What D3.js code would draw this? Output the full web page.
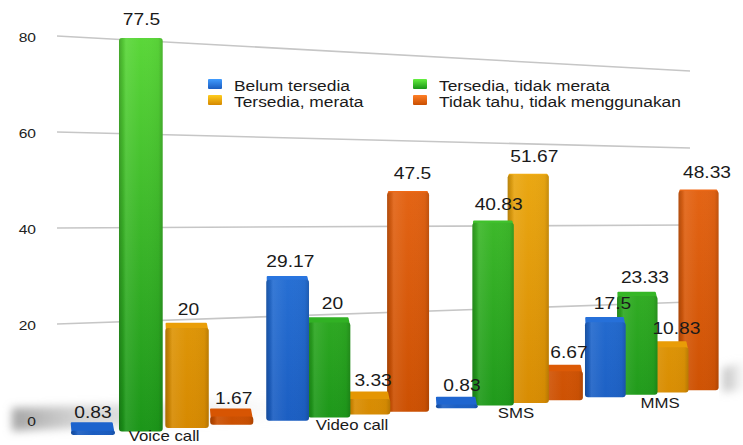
<!DOCTYPE html>
<html>
<head>
<meta charset="utf-8">
<script src="https://cdn.jsdelivr.net/npm/d3@7"></script>
<style>
  html, body { margin: 0; padding: 0; background: #fff; }
  svg { display: block; font-family: "Liberation Sans", Arial, Helvetica, sans-serif; }
</style>
</head>
<body>
<svg id="chart" width="743" height="445"></svg>
<script>
// Availability of mobile services (percent of respondents)
const categories = ["Voice call", "Video call", "SMS", "MMS"];
const seriesNames = ["Belum tersedia", "Tersedia, tidak merata", "Tersedia, merata", "Tidak tahu, tidak menggunakan"];
const belumTersedia       = [0.83, 29.17, 0.83, 17.5];
const tersediaTidakMerata = [77.5, 20, 40.83, 23.33];
const tersediaMerata      = [20, 3.33, 51.67, 10.83];
const tidakTahu           = [1.67, 47.5, 6.67, 48.33];
const tickValues = [0, 20, 40, 60, 80];

const seriesValues = [belumTersedia, tersediaTidakMerata, tersediaMerata, tidakTahu];
const palette = [
  { light: "#3a8cf0", dark: "#1a5cc0" },
  { light: "#5cd83a", dark: "#1a9418" },
  { light: "#f5b81c", dark: "#d58800" },
  { light: "#f47222", dark: "#c94e00" }
];

const svg = d3.select("#chart");
const defs = svg.append("defs");

// ---- perspective helpers -------------------------------------------------
// back wall (grid): left and right ends of every gridline
const wallFrac = d3.scaleLinear().domain([0, 1]).range([57, 690]);
const wallBase = d3.scaleLinear().domain([0, 1]).range([420, 379]);
const wallUnit = d3.scaleLinear().domain([0, 1]).range([4.8, 3.85]);
const wallY = (f, v) => wallBase(f) - v * wallUnit(f);

// floor line and value unit for the bars' front faces
const baseY = x => 435 - (x - 93) * 0.0738;
const unitPx = x => 5.08 - (x - 139) * 0.0017;
const valueScale = d3.scaleLinear().domain([0, 80]).range([0, 80]);
const frontY = (x, v) => baseY(x) - valueScale(v) * unitPx(x);

// category / series positions along the receding axis
const xGroup = d3.scaleBand().domain(categories).range([0, 16.9]).paddingInner(0.3 / 4.3).paddingOuter(0);
const xSeries = d3.scaleBand().domain(seriesNames).range([0, 4]).padding(0);
const recede = t => 93 + 48.67 * t / (1 + 0.01748 * t);
const labelShift = x => x + (x - 93) * 0.014;

// vertical light falloff shared by all bars
const GRAD_Y0 = 30, GRAD_Y1 = 440;
const shadeAt = (i, y) => d3.interpolateRgb(palette[i].light, palette[i].dark)(
  Math.max(0, Math.min(1, (y - GRAD_Y0) / (GRAD_Y1 - GRAD_Y0))));

// ---- gradients -----------------------------------------------------------
palette.forEach((c, i) => {
  const g = defs.append("linearGradient").attr("id", "fill" + i)
    .attr("gradientUnits", "userSpaceOnUse")
    .attr("x1", 0).attr("y1", GRAD_Y0).attr("x2", 0).attr("y2", GRAD_Y1);
  g.append("stop").attr("offset", "0%").attr("stop-color", c.light);
  g.append("stop").attr("offset", "100%").attr("stop-color", c.dark);

  const lg = defs.append("linearGradient").attr("id", "key" + i)
    .attr("x1", 0).attr("y1", 0).attr("x2", 0).attr("y2", 1);
  lg.append("stop").attr("offset", "0%").attr("stop-color", d3.color(c.light).brighter(0.3));
  lg.append("stop").attr("offset", "100%").attr("stop-color", c.dark);
});

const shade = defs.append("linearGradient").attr("id", "shade")
  .attr("x1", 0).attr("y1", 0).attr("x2", 1).attr("y2", 0);
[["0%", "#000", 0.22], ["9%", "#000", 0.08], ["16%", "#fff", 0.08], ["50%", "#fff", 0.0],
 ["90%", "#000", 0.03], ["100%", "#000", 0.16]].forEach(([o, c, a]) =>
  shade.append("stop").attr("offset", o).attr("stop-color", c).attr("stop-opacity", a));

const floorFade = defs.append("linearGradient").attr("id", "floorFade")
  .attr("x1", 0).attr("y1", 0).attr("x2", 1).attr("y2", 0);
floorFade.append("stop").attr("offset", "0%").attr("stop-color", "#9a9a9a").attr("stop-opacity", 0.9);
floorFade.append("stop").attr("offset", "22%").attr("stop-color", "#b4b4b4").attr("stop-opacity", 0.6);
floorFade.append("stop").attr("offset", "100%").attr("stop-color", "#d4d4d4").attr("stop-opacity", 0);

const sideFade = defs.append("linearGradient").attr("id", "sideFade")
  .attr("x1", 0).attr("y1", 0).attr("x2", 1).attr("y2", 0);
sideFade.append("stop").attr("offset", "0%").attr("stop-color", "#a8a8a8").attr("stop-opacity", 0.8);
sideFade.append("stop").attr("offset", "100%").attr("stop-color", "#cfcfcf").attr("stop-opacity", 0.2);

const blur = defs.append("filter").attr("id", "soft").attr("x", "-20%").attr("y", "-50%")
  .attr("width", "140%").attr("height", "200%");
blur.append("feGaussianBlur").attr("stdDeviation", 4);

// ---- floor shading -------------------------------------------------------
svg.append("path")
  .attr("d", "M12,408 L300,398 L300,418 L12,431 Z")
  .attr("fill", "url(#floorFade)")
  .attr("filter", "url(#soft)");
svg.append("path")
  .attr("d", "M723,368 L743,362 L743,390 L723,392 Z")
  .attr("fill", "url(#sideFade)")
  .attr("filter", "url(#soft)");

// ---- gridlines and value ticks ------------------------------------------
svg.append("g").selectAll("line")
  .data(tickValues.filter(v => v > 0))
  .join("line")
  .attr("x1", wallFrac(0)).attr("y1", v => wallY(0, v))
  .attr("x2", wallFrac(1)).attr("y2", v => wallY(1, v))
  .attr("stroke", "#c6c6c6").attr("stroke-width", 1.6);

svg.append("g").selectAll("text")
  .data(tickValues)
  .join("text")
  .attr("transform", v => `translate(36,${wallY(0, v) + 1}) scale(1.2,1)`)
  .attr("text-anchor", "end")
  .attr("dominant-baseline", "central")
  .attr("font-size", 13)
  .attr("fill", "#222")
  .text(v => v);

// ---- legend --------------------------------------------------------------
const legendPos = [[208, 79], [413, 79], [208, 95], [413, 95]];
const legend = svg.append("g").selectAll("g")
  .data(seriesNames)
  .join("g")
  .attr("transform", (d, i) => `translate(${legendPos[i][0]},${legendPos[i][1]})`);
legend.append("rect")
  .attr("width", 14).attr("height", 10).attr("rx", 1)
  .attr("fill", (d, i) => `url(#key${i})`);
legend.append("text")
  .attr("transform", "translate(26,12) scale(1.2,1)")
  .attr("font-size", 14.5)
  .attr("fill", "#1a1a1a")
  .text(d => d);

// ---- bars ----------------------------------------------------------------
const bars = [];
categories.forEach((cat, ci) => {
  seriesNames.forEach((s, si) => {
    const t = xGroup(cat) + xSeries(s);
    const cx = recede(t);
    bars.push({ cat, ci, si, v: seriesValues[si][ci], t, cx });
  });
});
bars.sort((a, b) => b.t - a.t); // nearer (left) bars are drawn last

const barG = svg.append("g");
bars.forEach(b => {
  const w = 44 - (b.cx - 93) * 0.0065;
  const x0 = b.cx - w / 2;
  const yT = frontY(b.cx, b.v);
  const yB = baseY(b.cx);
  const tt = Math.max(0, (yT - 150) * 0.03);
  const dx = tt * 0.15;
  const g = barG.append("g");
  if (tt > 0.5) {
    const topCol = d3.color(shadeAt(b.si, yT - tt)).brighter(0.15);
    g.append("path")
      .attr("d", `M${x0 + 1.5},${yT + 2} L${x0 + w - 1.5},${yT + 2} L${x0 + w - 2 - dx},${yT - tt + 1} L${x0 + 2 - dx},${yT - tt + 1} Z`)
      .attr("fill", topCol)
      .attr("stroke", topCol).attr("stroke-width", 2).attr("stroke-linejoin", "round");
  }
  const rx = Math.min(3, (yB - yT) / 2);
  g.append("rect")
    .attr("x", x0).attr("y", yT).attr("width", w).attr("height", yB - yT)
    .attr("rx", rx)
    .attr("fill", `url(#fill${b.si})`);
  g.append("rect")
    .attr("x", x0).attr("y", yT).attr("width", w).attr("height", yB - yT)
    .attr("rx", rx)
    .attr("fill", "url(#shade)");
});

// ---- value labels --------------------------------------------------------
svg.append("g").selectAll("text")
  .data(bars)
  .join("text")
  .attr("transform", b => `translate(${labelShift(b.cx)},${frontY(b.cx, b.v) - 13}) scale(1.2,1)`)
  .attr("text-anchor", "middle")
  .attr("font-size", 16)
  .attr("fill", "#1a1a1a")
  .text(b => String(b.v));

// ---- category labels -----------------------------------------------------
svg.append("g").selectAll("text")
  .data(categories)
  .join("text")
  .attr("transform", c => {
    const cx = d3.mean(seriesNames, s => recede(xGroup(c) + xSeries(s)));
    return `translate(${labelShift(cx)},${Math.min(441, baseY(cx) + 14)}) scale(1.2,1)`;
  })
  .attr("text-anchor", "middle")
  .attr("font-size", 14)
  .attr("fill", "#1a1a1a")
  .text(c => c);
</script>
</body>
</html>
